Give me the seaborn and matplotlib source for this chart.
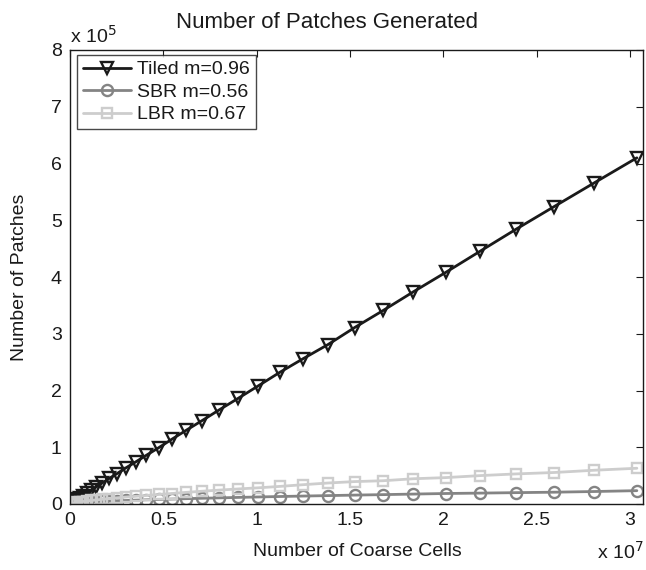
import matplotlib
matplotlib.use("Agg")
import matplotlib.pyplot as plt
import seaborn as sns
import pandas as pd
from matplotlib.lines import Line2D

# Number of coarse cells (units of 1e7)
coarse_cells = [0.00005, 0.0004, 0.0014, 0.0033, 0.0064, 0.0111, 0.0176, 0.0262,
                0.0373, 0.0512, 0.0681, 0.0885, 0.1125, 0.1405, 0.1728, 0.2097,
                0.2515, 0.2986, 0.3512, 0.4096, 0.4742, 0.5452, 0.6230, 0.7078,
                0.8000, 0.8999, 1.0078, 1.1239, 1.2487, 1.3824, 1.5253, 1.6777,
                1.8400, 2.0124, 2.1952, 2.3888, 2.5934, 2.8094, 3.0371]

# Number of patches (units of 1e5)
tiled = [0.00015, 0.001, 0.0035, 0.008, 0.015, 0.025, 0.040, 0.058,
         0.082, 0.112, 0.148, 0.19, 0.24, 0.30, 0.37, 0.45,
         0.535, 0.635, 0.74, 0.86, 0.99, 1.14, 1.30, 1.47,
         1.66, 1.86, 2.08, 2.32, 2.56, 2.81, 3.11, 3.41,
         3.74, 4.08, 4.45, 4.84, 5.24, 5.66, 6.10]
sbr = [0.0005, 0.0015, 0.003, 0.005, 0.007, 0.010, 0.013, 0.016,
       0.020, 0.023, 0.027, 0.032, 0.036, 0.041, 0.046, 0.051,
       0.057, 0.062, 0.068, 0.074, 0.080, 0.087, 0.094, 0.101,
       0.108, 0.116, 0.124, 0.132, 0.140, 0.148, 0.157, 0.165,
       0.175, 0.185, 0.192, 0.200, 0.208, 0.220, 0.235]
lbr = [0.0003, 0.0015, 0.0035, 0.006, 0.009, 0.013, 0.018, 0.024,
       0.030, 0.036, 0.044, 0.052, 0.062, 0.072, 0.083, 0.095,
       0.108, 0.122, 0.135, 0.150, 0.168, 0.185, 0.205, 0.225,
       0.245, 0.265, 0.285, 0.31, 0.34, 0.37, 0.395, 0.41,
       0.445, 0.465, 0.50, 0.53, 0.555, 0.595, 0.63]

series_names = ["Tiled m=0.96", "SBR m=0.56", "LBR m=0.67"]
series_values = [tiled, sbr, lbr]
series_colors = ["#1a1a1a", "#848484", "#cdcdcd"]
series_markers = ["v", "o", "s"]

x_ticks = [0, 0.5, 1, 1.5, 2, 2.5, 3]
x_tick_labels = ["0", "0.5", "1", "1.5", "2", "2.5", "3"]
y_ticks = [0, 1, 2, 3, 4, 5, 6, 7, 8]

sns.set_theme(style="white")
plt.rcParams["font.family"] = ["Liberation Sans", "DejaVu Sans"]

frames = []
for name, vals in zip(series_names, series_values):
    frames.append(pd.DataFrame({"cells": coarse_cells, "patches": vals, "series": name}))
df = pd.concat(frames, ignore_index=True)

fig = plt.figure(figsize=(6.46, 5.70), dpi=100)
ax = fig.add_axes([70 / 646, 1 - 504 / 570, (643 - 70) / 646, (504 - 50) / 570])

marker_sizes = {"v": 9, "o": 8, "s": 7}
handles = []
for name, color, mk in zip(series_names, series_colors, series_markers):
    sub = df[df["series"] == name]
    ms = marker_sizes[mk]
    sns.lineplot(data=sub, x="cells", y="patches", ax=ax, color=color, marker=mk,
                 markersize=ms, markerfacecolor="none", markeredgecolor=color,
                 markeredgewidth=1.7, linewidth=2.0, sort=False, estimator=None,
                 legend=False)
    handles.append(Line2D([0], [0], color=color, marker=mk, markersize=ms,
                          markerfacecolor="none", markeredgecolor=color,
                          markeredgewidth=1.7, linewidth=2.0))

ax.set_xlim(0, 3.07)
ax.set_ylim(0, 8)
ax.set_xticks(x_ticks)
ax.set_xticklabels(x_tick_labels)
ax.set_yticks(y_ticks)
ax.tick_params(direction="in", length=5, width=0.8, top=True, right=True,
               labelsize=14, colors="#1a1a1a", pad=6)
for sp in ax.spines.values():
    sp.set_color("#1a1a1a")
    sp.set_linewidth(1.0)
ax.set_xlabel("")
ax.set_ylabel("")

fig.text(357 / 646, 1 - 552 / 570, "Number of Coarse Cells", ha="center", va="center",
         fontsize=14, color="#1a1a1a")
fig.text(20 / 646, 1 - 277 / 570, "Number of Patches", ha="center", va="center",
         rotation=90, fontsize=14, color="#1a1a1a")
fig.text(327 / 646, 1 - 22 / 570, "Number of Patches Generated", ha="center", va="center",
         fontsize=16, color="#1a1a1a")
fig.text(70 / 646, 1 - 36 / 570, r"x 10$^{5}$", ha="left", va="center",
         fontsize=14, color="#1a1a1a")
fig.text(644 / 646, 1 - 552 / 570, r"x 10$^{7}$", ha="right", va="center",
         fontsize=14, color="#1a1a1a")

leg = ax.legend(handles, series_names, loc="upper left", bbox_to_anchor=(0.012, 0.989),
                fontsize=14, frameon=True, fancybox=False, handlelength=2.5,
                handletextpad=0.3, borderpad=0.3, labelspacing=0.25,
                borderaxespad=0.0)
leg.get_frame().set_edgecolor("#1a1a1a")
leg.get_frame().set_linewidth(1.0)
for t in leg.get_texts():
    t.set_color("#1a1a1a")

fig.savefig("out.png", dpi=100)
